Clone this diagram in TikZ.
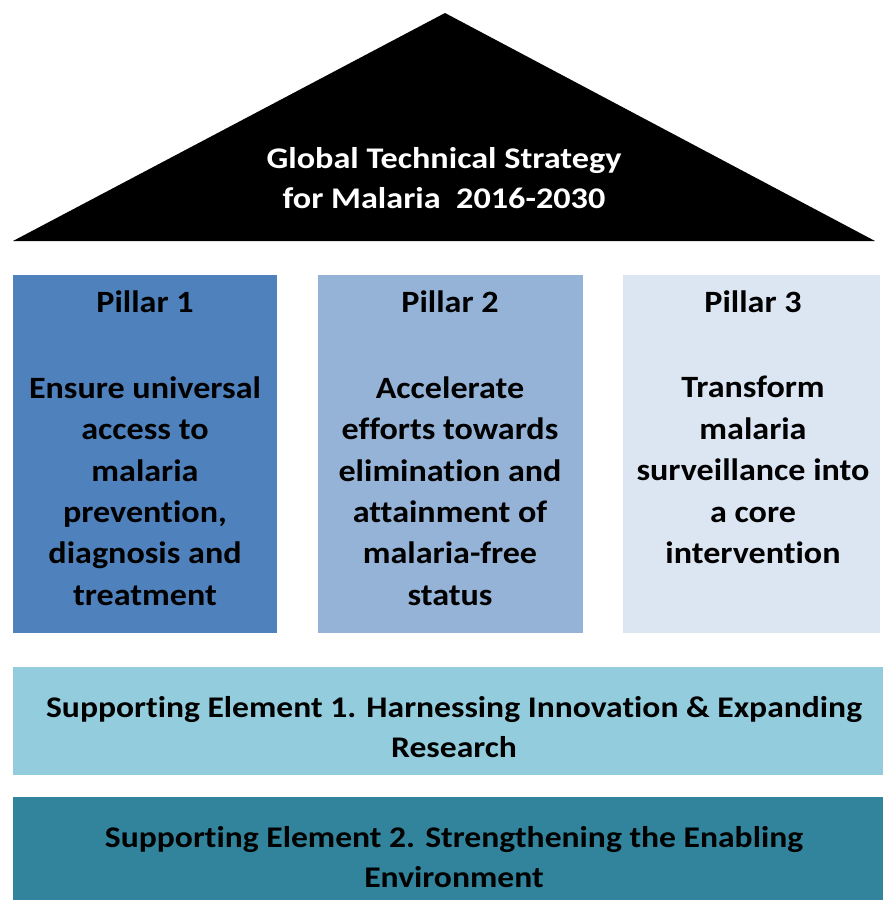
\documentclass[tikz,border=0pt]{standalone}
\usepackage{fontspec}
\setmainfont{Carlito}[Ligatures=NoCommon]
\definecolor{pone}{HTML}{4F81BD}
\definecolor{ptwo}{HTML}{95B3D7}
\definecolor{pthree}{HTML}{DCE6F2}
\definecolor{sone}{HTML}{93CDDD}
\definecolor{stwo}{HTML}{31849B}
\begin{document}
\begin{tikzpicture}[x=1pt,y=-1pt,
  txt/.style={font=\bfseries\fontsize{31}{41.4}\selectfont\addfontfeature{FakeStretch=1.1},align=center,inner sep=0pt},
  bigtxt/.style={txt,font=\bfseries\fontsize{30}{40}\selectfont\addfontfeature{FakeStretch=#1}}]
\useasboundingbox (0,0) rectangle (883,900);
\fill[white] (0,0) rectangle (883,900);
% roof
\fill[black] (445,13) -- (875,241) -- (13,241) -- cycle;
\node[bigtxt=1.14,text=white] (roof) at (444,178) {Global Technical Strategy\\for Malaria~~2016-2030};
% pillars
\fill[pone] (13,275) rectangle (277,633);
\fill[ptwo] (318,275) rectangle (583,633);
\fill[pthree] (623,275) rectangle (880,633);
\node[txt] (p1t) at (145,302) {Pillar 1};
\node[txt] (p2t) at (450,302) {Pillar 2};
\node[txt] (p3t) at (753,302) {Pillar 3};
\node[txt] (p1b) at (145,491) {Ensure universal\\access to\\malaria\\prevention,\\diagnosis and\\treatment};
\node[txt] (p2b) at (450,491) {Accelerate\\efforts towards\\elimination and\\attainment of\\malaria-free\\status};
\node[txt] (p3b) at (753,470) {Transform\\malaria\\surveillance into\\a core\\intervention};
% supporting bars
\fill[sone] (13,667) rectangle (883,775);
\fill[stwo] (13,797) rectangle (883,900);
\node[bigtxt=1.12] (s1) at (454,727) {Supporting Element 1. Harnessing Innovation \& Expanding\\Research};
\node[bigtxt=1.12] (s2) at (454,857) {Supporting Element 2. Strengthening the Enabling\\Environment};
\end{tikzpicture}
\end{document}
